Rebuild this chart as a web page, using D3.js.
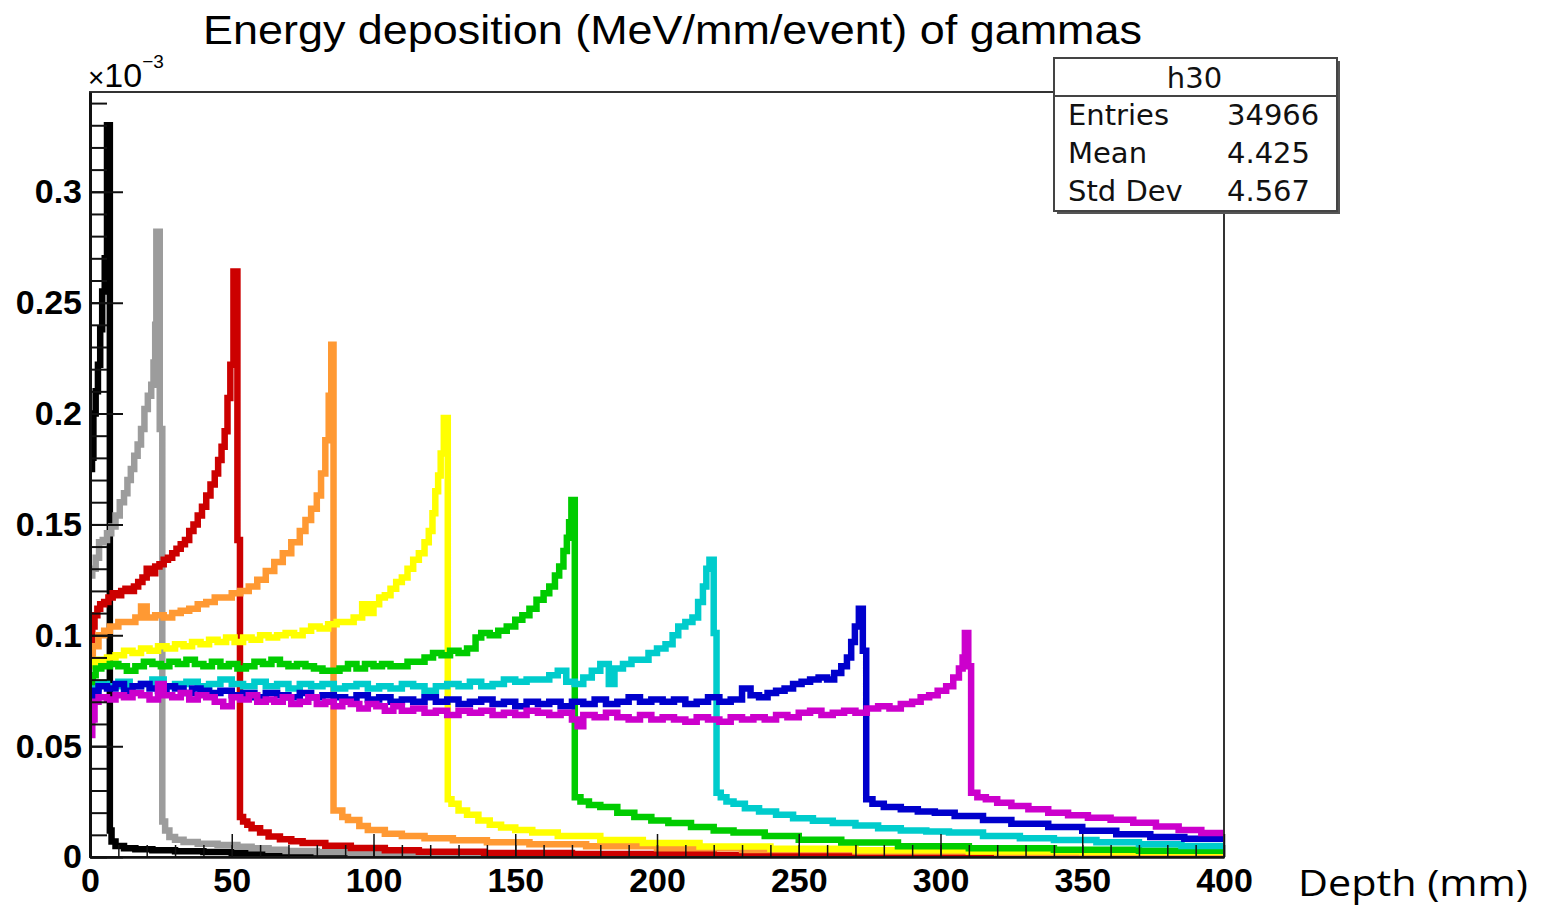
<!DOCTYPE html>
<html>
<head>
<meta charset="utf-8">
<script src="https://cdn.jsdelivr.net/npm/d3@7"></script>
<style>
  body { margin: 0; background: #fff; }
  svg { display: block; }
</style>
</head>
<body>
<div id="chart"></div>
<script>
"use strict";
// ROOT-style histogram: energy deposition vs depth, one curve per gamma energy.
// Each series: [depth (mm), energy deposit (x1e-3 MeV/mm/event)], drawn as steps.

const xTicks = [0, 50, 100, 150, 200, 250, 300, 350, 400];
const yTicks = [0, 0.05, 0.1, 0.15, 0.2, 0.25, 0.3];
const statsLabels = ['Entries', 'Mean', 'Std Dev'];
const statsValues = ['34966', '4.425', '4.567'];

const black = [[0,0.175],[0.7,0.18],[1.2,0.2],[2,0.21],[2.8,0.222],[3.6,0.238],[4.3,0.255],[5.2,0.27],[6,0.33],[7,0.012],[7.6,0.007],[9,0.005],[12,0.004],[16,0.0035],[22,0.003],[30,0.0026],[40,0.0022],[50,0.0018],[65,0.0013],[85,0.0009],[110,0.0005],[150,0.0002],[200,0],[400,0]];

const gray = [[0,0.127],[0.8,0.13],[2,0.135],[3.2,0.142],[4.5,0.143],[6,0.146],[7.5,0.149],[9,0.154],[10.5,0.16],[12,0.164],[13.2,0.17],[14.4,0.175],[15.6,0.181],[16.8,0.186],[18,0.193],[19.2,0.202],[20.4,0.208],[21.6,0.213],[22.4,0.223],[23,0.24],[23.4,0.282],[24.6,0.193],[25.5,0.016],[26.5,0.012],[28,0.009],[30,0.0078],[33,0.0068],[38,0.006],[45,0.0054],[52,0.0046],[57,0.004],[63,0.0033],[69,0.0027],[80,0.0022],[92,0.0018],[110,0.0014],[140,0.001],[180,0.0007],[240,0.0004],[320,0.0002],[400,0.0001]];

const red = [[0,0.098],[0.8,0.104],[1.6,0.109],[2.6,0.112],[3.6,0.114],[5,0.115],[6.5,0.117],[8,0.119],[9.5,0.118],[11,0.12],[12.5,0.121],[14,0.12],[15.5,0.122],[17,0.124],[18.5,0.126],[20,0.13],[21.5,0.128],[23,0.131],[24.5,0.132],[26,0.134],[27.5,0.135],[29,0.137],[30.5,0.139],[32,0.141],[33.5,0.143],[35,0.147],[36.5,0.15],[38,0.154],[39.5,0.158],[41,0.163],[42.5,0.168],[44,0.173],[45.2,0.179],[46.4,0.185],[47.5,0.192],[48.5,0.207],[49.5,0.222],[50.6,0.264],[52,0.143],[52.9,0.018],[54,0.016],[55.5,0.0145],[57,0.013],[60,0.011],[63,0.0092],[67,0.008],[71,0.0071],[75,0.0063],[83,0.0051],[92,0.0041],[104,0.0031],[116,0.0024],[139,0.0018],[170,0.0013],[220,0.0009],[280,0.0006],[350,0.0004],[400,0.0003]];

const orange = [[0,0.091],[1,0.095],[3,0.1],[5,0.102],[7,0.104],[10,0.106],[13,0.106],[16,0.108],[18,0.113],[20,0.108],[23,0.109],[26,0.108],[29,0.11],[32,0.111],[35,0.112],[38,0.114],[41,0.115],[44,0.117],[47,0.117],[50,0.119],[53,0.12],[56,0.122],[59,0.125],[62,0.129],[65,0.133],[68,0.137],[71,0.142],[74,0.147],[76,0.152],[78,0.157],[80,0.163],[81.5,0.173],[83,0.188],[84.2,0.208],[85.1,0.231],[85.9,0.021],[89,0.018],[91,0.0167],[95,0.014],[98,0.0122],[104,0.0105],[110,0.0095],[118,0.0085],[128,0.0075],[140,0.0066],[155,0.0058],[175,0.0048],[200,0.004],[230,0.0032],[270,0.0025],[320,0.0019],[370,0.0015],[400,0.0013]];

const yellow = [[0,0.086],[1.5,0.088],[3,0.089],[6,0.09],[9,0.091],[12,0.093],[15,0.092],[18,0.094],[21,0.093],[24,0.095],[27,0.094],[30,0.096],[33,0.095],[36,0.097],[39,0.096],[42,0.098],[45,0.097],[48,0.099],[51,0.097],[54,0.099],[57,0.098],[60,0.1],[63,0.099],[66,0.1],[69,0.101],[72,0.1],[75,0.102],[78,0.104],[81,0.103],[84,0.105],[87,0.106],[90,0.106],[93,0.108],[96,0.114],[98,0.11],[100,0.114],[102,0.117],[104,0.118],[106,0.121],[108,0.124],[110,0.126],[112,0.13],[114,0.134],[116,0.137],[118,0.142],[119.5,0.147],[120.8,0.155],[121.8,0.165],[122.8,0.172],[123.7,0.182],[124.8,0.198],[126.2,0.026],[127.5,0.024],[130,0.021],[133,0.019],[137,0.0165],[141,0.0145],[145,0.0133],[150,0.0122],[156,0.011],[165,0.0095],[180,0.0077],[195,0.0063],[215,0.0047],[240,0.0037],[270,0.003],[310,0.0025],[350,0.0022],[400,0.002]];

const green = [[0,0.078],[1,0.082],[2,0.085],[4,0.086],[7,0.087],[10,0.086],[13,0.084],[16,0.086],[19,0.088],[22,0.087],[25,0.086],[28,0.088],[31,0.087],[34,0.089],[37,0.087],[40,0.086],[43,0.088],[46,0.086],[49,0.087],[52,0.085],[55,0.086],[58,0.088],[61,0.087],[64,0.089],[67,0.087],[70,0.086],[73,0.087],[76,0.086],[79,0.085],[82,0.084],[85,0.084],[88,0.085],[91,0.087],[94,0.085],[97,0.087],[100,0.086],[103,0.087],[106,0.086],[109,0.086],[112,0.088],[115,0.088],[118,0.09],[121,0.092],[124,0.091],[127,0.093],[130,0.092],[133,0.094],[136,0.099],[138,0.101],[141,0.1],[144,0.102],[147,0.104],[150,0.107],[152.5,0.109],[155,0.112],[157.5,0.116],[160,0.119],[162,0.122],[164,0.127],[165.5,0.131],[167,0.138],[168.2,0.144],[169,0.151],[169.8,0.161],[171,0.027],[173,0.025],[176,0.0235],[180,0.0225],[186,0.02],[192,0.018],[198,0.0165],[204,0.0153],[212,0.0135],[220,0.012],[227,0.011],[238,0.0095],[250,0.0078],[265,0.0065],[285,0.0048],[310,0.004],[340,0.0033],[370,0.0028],[400,0.0025]];

const cyan = [[0,0.072],[1,0.076],[3,0.078],[6,0.077],[10,0.079],[14,0.077],[18,0.078],[22,0.08],[26,0.077],[30,0.078],[34,0.079],[38,0.077],[42,0.078],[46,0.08],[50,0.078],[54,0.077],[58,0.079],[62,0.077],[66,0.078],[70,0.076],[74,0.078],[78,0.077],[82,0.078],[86,0.076],[90,0.077],[94,0.078],[98,0.076],[102,0.077],[106,0.076],[110,0.078],[114,0.077],[118,0.075],[122,0.077],[126,0.078],[130,0.077],[134,0.079],[138,0.077],[142,0.078],[146,0.08],[150,0.079],[154,0.08],[158,0.08],[162,0.082],[165,0.084],[168,0.079],[171,0.078],[174,0.081],[177,0.084],[180,0.087],[183,0.078],[185,0.085],[188,0.087],[191,0.089],[194,0.089],[197,0.092],[200,0.094],[203,0.096],[205.5,0.1],[207.5,0.104],[210,0.106],[212.5,0.108],[214.5,0.115],[216.2,0.122],[217.4,0.13],[218.5,0.134],[220,0.101],[221,0.029],[222.5,0.027],[224.5,0.025],[227,0.024],[231,0.022],[236,0.0205],[242,0.019],[248,0.0175],[255,0.0163],[262,0.0153],[270,0.0142],[278,0.013],[286,0.012],[295,0.0115],[303,0.011],[315,0.0095],[328,0.0085],[340,0.0077],[355,0.0066],[370,0.0058],[385,0.005],[400,0.0045]];

const blue = [[0,0.062],[0.8,0.07],[1.6,0.075],[3,0.077],[6,0.076],[9,0.078],[12,0.075],[15,0.077],[18,0.078],[21,0.076],[24,0.075],[27,0.077],[30,0.076],[33,0.074],[36,0.076],[39,0.075],[42,0.074],[46,0.075],[50,0.073],[54,0.074],[58,0.072],[62,0.074],[66,0.073],[70,0.072],[74,0.074],[78,0.072],[82,0.073],[86,0.072],[90,0.071],[94,0.073],[98,0.071],[102,0.072],[106,0.07],[110,0.071],[114,0.07],[118,0.072],[122,0.07],[126,0.071],[130,0.069],[134,0.07],[138,0.071],[142,0.069],[146,0.07],[150,0.068],[154,0.07],[158,0.069],[162,0.07],[166,0.068],[170,0.07],[174,0.069],[178,0.071],[182,0.069],[186,0.07],[190,0.072],[194,0.07],[198,0.071],[202,0.07],[206,0.071],[210,0.069],[214,0.07],[218,0.072],[222,0.07],[226,0.071],[230,0.076],[233,0.073],[236,0.072],[239,0.074],[242,0.075],[245,0.076],[248,0.078],[251,0.079],[254,0.08],[257,0.081],[260,0.08],[262.5,0.083],[265,0.086],[267,0.09],[268.5,0.097],[269.8,0.104],[271.2,0.112],[272.6,0.093],[273.8,0.026],[276,0.024],[280,0.0226],[286,0.0215],[292,0.0205],[298,0.02],[305,0.0185],[315,0.0167],[325,0.015],[338,0.0135],[350,0.0118],[362,0.0103],[374,0.009],[386,0.0082],[400,0.0077]];

const magenta = [[0,0.055],[0.8,0.062],[1.6,0.07],[3,0.072],[6,0.071],[9,0.073],[12,0.072],[15,0.074],[18,0.073],[21,0.071],[24,0.078],[26,0.073],[29,0.072],[32,0.074],[35,0.071],[38,0.073],[41,0.072],[44,0.07],[47,0.068],[50,0.072],[53,0.071],[56,0.073],[59,0.07],[62,0.071],[65,0.07],[68,0.072],[71,0.069],[74,0.07],[77,0.072],[80,0.069],[83,0.07],[86,0.068],[89,0.07],[92,0.069],[95,0.067],[98,0.069],[101,0.068],[104,0.066],[107,0.068],[110,0.066],[114,0.067],[118,0.065],[122,0.066],[126,0.064],[130,0.066],[134,0.065],[138,0.066],[142,0.064],[146,0.065],[150,0.064],[154,0.066],[158,0.065],[162,0.064],[166,0.065],[170,0.062],[172,0.059],[174,0.064],[178,0.063],[182,0.065],[186,0.063],[190,0.062],[194,0.064],[198,0.062],[202,0.063],[206,0.062],[210,0.061],[214,0.063],[218,0.062],[222,0.061],[226,0.063],[230,0.062],[234,0.063],[238,0.062],[242,0.064],[246,0.063],[250,0.065],[254,0.066],[258,0.064],[262,0.065],[266,0.066],[270,0.065],[274,0.067],[278,0.068],[282,0.067],[286,0.069],[290,0.07],[293,0.072],[296,0.073],[299,0.075],[302,0.077],[304.5,0.081],[306.5,0.085],[307.8,0.09],[308.6,0.101],[309.8,0.086],[310.8,0.029],[313,0.027],[316,0.026],[320,0.0245],[325,0.023],[331,0.0215],[338,0.02],[345,0.0188],[352,0.0177],[360,0.0168],[368,0.0155],[376,0.0138],[384,0.0122],[392,0.0108],[400,0.0098]];

// drawing order matters: later series sit on top
const series = [black, gray, red, orange, yellow, green, cyan, blue, magenta];
const seriesColors = ['#000000', '#9c9c9c', '#cc0000', '#ff9933', '#ffff00', '#00cc00', '#00cccc', '#0000cc', '#cc00cc'];

const W = 1550, H = 908;
const frame = { left: 90, right: 1224, top: 92, bottom: 857 };

const svg = d3.select('#chart').append('svg').attr('width', W).attr('height', H);

const x = d3.scaleLinear().domain([0, 400]).range([frame.left, frame.right]);
const y = d3.scaleLinear().domain([0, 0.345]).range([frame.bottom, frame.top]);

svg.append('defs').append('clipPath').attr('id', 'frameClip')
  .append('rect').attr('x', frame.left).attr('y', frame.top)
  .attr('width', frame.right - frame.left).attr('height', frame.bottom - frame.top);

// ---- histograms ----
const line = d3.line().x((d) => x(d[0])).y((d) => y(d[1])).curve(d3.curveStepAfter);
svg.append('g').attr('clip-path', 'url(#frameClip)')
  .selectAll('path').data(series).enter().append('path')
  .attr('d', line)
  .attr('fill', 'none')
  .attr('stroke', (d, i) => seriesColors[i])
  .attr('stroke-width', 6.5)
  .attr('stroke-linejoin', 'miter');

// ---- frame ----
svg.append('rect')
  .attr('x', frame.left).attr('y', frame.top)
  .attr('width', frame.right - frame.left).attr('height', frame.bottom - frame.top)
  .attr('fill', 'none').attr('stroke', '#333').attr('stroke-width', 2);

// ---- axes (ROOT style: ticks point inward) ----
const tickFont = (sel) => sel.selectAll('text')
  .attr('font-family', '"Liberation Sans", Arial, sans-serif')
  .attr('font-weight', 'bold').attr('font-size', 34).attr('fill', '#000');
const fmt = (d) => String(+d.toFixed(2));

const yMinor = svg.append('g').attr('transform', `translate(${frame.left},0)`)
  .call(d3.axisLeft(y).tickValues(d3.range(0, 0.3451, 0.01)).tickSize(-17).tickFormat(''));
yMinor.select('.domain').remove();
yMinor.selectAll('line').attr('stroke', '#111').attr('stroke-width', 2);

const yAxis = svg.append('g').attr('transform', `translate(${frame.left},0)`)
  .call(d3.axisLeft(y).tickValues(yTicks).tickSizeInner(-33).tickSizeOuter(0).tickPadding(8).tickFormat(fmt));
yAxis.select('.domain').attr('stroke', '#111').attr('stroke-width', 3);
yAxis.selectAll('line').attr('stroke', '#111').attr('stroke-width', 2);
tickFont(yAxis);

const xMinor = svg.append('g').attr('transform', `translate(0,${frame.bottom})`)
  .call(d3.axisBottom(x).tickValues(d3.range(0, 401, 10)).tickSize(-12).tickFormat(''));
xMinor.select('.domain').remove();
xMinor.selectAll('line').attr('stroke', '#111').attr('stroke-width', 1.5);

const xAxis = svg.append('g').attr('transform', `translate(0,${frame.bottom})`)
  .call(d3.axisBottom(x).tickValues(xTicks).tickSizeInner(-23).tickSizeOuter(0).tickPadding(11).tickFormat(fmt));
xAxis.select('.domain').attr('stroke', '#111').attr('stroke-width', 2.5);
xAxis.selectAll('line').attr('stroke', '#111').attr('stroke-width', 1.5);
tickFont(xAxis);

// ---- exponent marker ----
const expo = svg.append('text').attr('x', 88).attr('y', 87)
  .attr('font-family', '"Liberation Sans", Arial, sans-serif').attr('fill', '#000');
expo.append('tspan').attr('font-size', 28).text('\u00d7');
expo.append('tspan').attr('font-size', 34).text('10');
expo.append('tspan').attr('font-size', 19).attr('dy', -19).text('\u22123');

// ---- title ----
svg.append('text').attr('x', 203).attr('y', 44)
  .attr('font-family', '"Liberation Sans", Arial, sans-serif').attr('font-size', 40)
  .attr('textLength', 939).attr('lengthAdjust', 'spacingAndGlyphs')
  .text('Energy deposition (MeV/mm/event) of gammas');

// ---- stats box ----
const box = { x: 1054, y: 58, w: 283, h: 153, head: 38 };
const stats = svg.append('g');
stats.append('rect').attr('x', box.x + 3).attr('y', box.y + 3).attr('width', box.w).attr('height', box.h).attr('fill', '#555');
stats.append('rect').attr('x', box.x).attr('y', box.y).attr('width', box.w).attr('height', box.h)
  .attr('fill', '#fff').attr('stroke', '#444').attr('stroke-width', 2);
stats.append('line').attr('x1', box.x).attr('x2', box.x + box.w)
  .attr('y1', box.y + box.head).attr('y2', box.y + box.head).attr('stroke', '#444').attr('stroke-width', 2);
const statFont = (t) => t.attr('font-family', '"DejaVu Sans", Verdana, sans-serif').attr('font-size', 29).attr('fill', '#111');
stats.append('text').attr('x', box.x + box.w / 2 - 1).attr('y', box.y + 30).attr('text-anchor', 'middle').call(statFont).text('h30');
statsLabels.forEach((lab, i) => {
  stats.append('text').attr('x', 1068).attr('y', 125 + i * 38).call(statFont).text(lab);
  stats.append('text').attr('x', 1227).attr('y', 125 + i * 38).call(statFont).text(statsValues[i]);
});

// ---- x axis title (added outside the pad) ----
svg.append('text').attr('x', 1298).attr('y', 896)
  .attr('font-family', '"Open Sans", "Noto Sans", sans-serif').attr('font-size', 37)
  .attr('textLength', 230).attr('lengthAdjust', 'spacingAndGlyphs')
  .text('Depth (mm)');
</script>
</body>
</html>
